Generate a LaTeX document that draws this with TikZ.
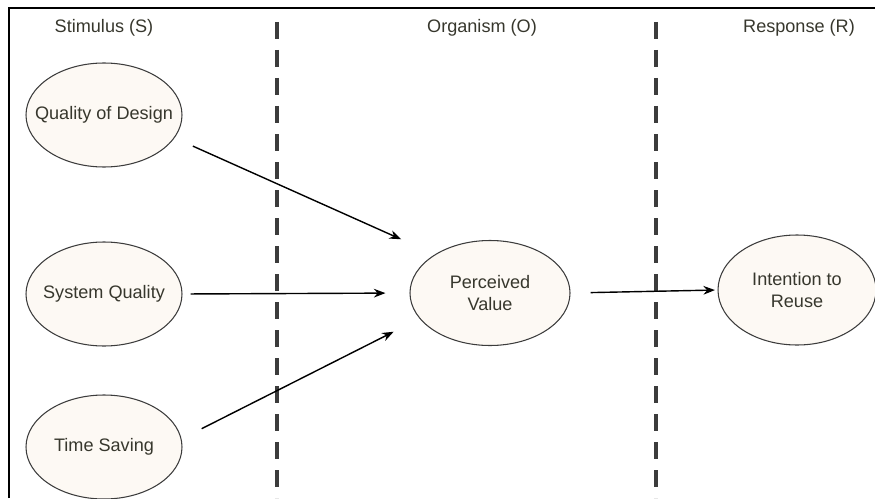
\documentclass[tikz,border=0pt]{standalone}
\usepackage{fontspec}
\setmainfont{Liberation Sans}
\usepackage{tikz}
\usetikzlibrary{arrows.meta,calc,shapes.geometric}
\usepackage{xcolor}
\definecolor{txtc}{RGB}{55,55,45}
\definecolor{fillc}{RGB}{253,249,244}
\definecolor{edgec}{RGB}{60,60,60}

\begin{document}
\begin{tikzpicture}[>=Stealth,
    var/.style={draw=edgec,ellipse,fill=fillc,line width=0.6pt,inner xsep=-0.5cm,inner ysep=0pt,text=txtc,align=center,font=\fontsize{10.3pt}{12.3pt}\selectfont},
    hdr/.style={text=txtc,font=\fontsize{10.3pt}{12.3pt}\selectfont},
    link/.style={->,line width=0.8pt},
    divider/.style={line width=2.3pt,edgec,dash pattern=on 0.34cm off 0.22cm}]
      \useasboundingbox (0,0) rectangle (17.5,-9.96);
      % frame
      \draw[line width=1.1pt] (0.18,-9.96) -- (0.18,-0.16) -- (17.5,-0.16);
      % column headers
      \node[hdr] (hS) at (2.08,-0.56) {Stimulus (S)};
      \node[hdr] (hO) at (9.64,-0.56) {Organism (O)};
      \node[hdr] (hR) at (15.98,-0.56) {Response (R)};
      % dividers
      \draw[divider] (5.54,-0.44) -- (5.54,-9.96);
      \draw[divider] (13.12,-0.44) -- (13.12,-9.96);
      % constructs
      \node[var,minimum width=3.12cm,minimum height=2.08cm] (QD) at (2.08,-2.30) {Quality of Design};
      \node[var,minimum width=3.12cm,minimum height=2.08cm] (SQ) at (2.08,-5.88) {System Quality};
      \node[var,minimum width=3.12cm,minimum height=2.08cm] (TS) at (2.08,-8.94) {Time Saving};
      \node[var,minimum width=3.2cm,minimum height=2.1cm] (PV) at (9.80,-5.86) {Perceived\\Value};
      \node[var,minimum width=3.16cm,minimum height=2.2cm] (IR) at (15.94,-5.80) {Intention to\\Reuse};
      % paths
      \draw[link,shorten <=0.4cm,shorten >=0.74cm] (QD.-18) -- (PV.145);
      \draw[link,shorten <=0.16cm,shorten >=0.48cm] (SQ.east) -- (PV.west);
      \draw[link,shorten <=0.45cm,shorten >=0.58cm] (TS.6) -- (PV.200);
      \draw[link,shorten <=0.4cm,shorten >=0.05cm] (PV.east) -- (IR.west);
    \end{tikzpicture}
\end{document}
